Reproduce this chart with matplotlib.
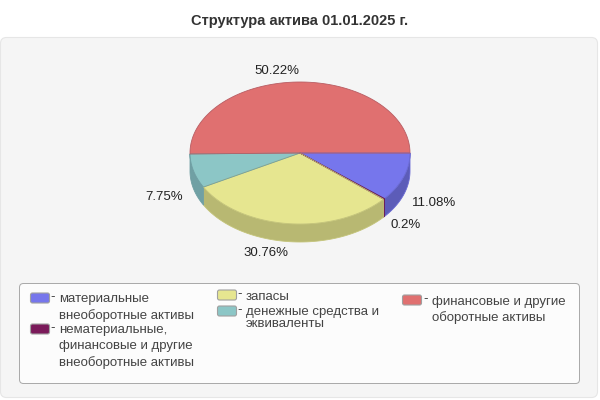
import numpy as np
import matplotlib.pyplot as plt
from matplotlib.patches import FancyBboxPatch, Polygon

plt.rcParams['font.family'] = ['Liberation Sans', 'DejaVu Sans']

title = 'Структура актива 01.01.2025 г.'
shares = [11.08, 0.2, 30.76, 7.75, 50.22]
pct_labels = ['11.08%', '0.2%', '30.76%', '7.75%', '50.22%']
top_colors = ['#7676ec', '#7a1a5a', '#e6e690', '#8cc6c6', '#e07070']
edge_colors = ['#6a6ad4', '#6a1650', '#c4c47a', '#6f9fa3', '#b85c62']
side_colors = ['#5c5cb8', '#6a1650', '#b8b872', '#70a0a4', '#b05a5a']
legend_labels = ['материальные\nвнеоборотные активы',
                 'нематериальные,\nфинансовые и другие\nвнеоборотные активы',
                 'запасы',
                 'денежные средства и\nэквиваленты',
                 'финансовые и другие\nоборотные активы']

W, H = 600, 400
fig = plt.figure(figsize=(6, 4), dpi=100, facecolor='white')

# background layer in pixel coordinates
bg = fig.add_axes([0, 0, 1, 1])
bg.set_xlim(0, W)
bg.set_ylim(H, 0)
bg.axis('off')

def rbox(x0, y0, x1, y1, r, fc, ec, lw):
    bg.add_patch(FancyBboxPatch((x0 + r, y0 + r), x1 - x0 - 2 * r, y1 - y0 - 2 * r,
                                boxstyle='round,pad=%g,rounding_size=%g' % (r, r),
                                fc=fc, ec=ec, lw=lw))

rbox(0.5, 37.5, 597.5, 397.5, 6, '#f5f5f5', '#e6e6e6', 0.8)
rbox(19.5, 283.5, 579.5, 383.5, 4, '#fcfcfc', '#a8a8a8', 0.7)
bg.text(300, 21, title, ha='center', va='center', fontsize=10.5, fontweight='bold', color='#333333')

# pie top, squashed into the ellipse box
cx, cy, rx, ry, depth = 300, 153, 110, 71, 18
ax = fig.add_axes([(cx - rx) / W, 1 - (cy + ry) / H, 2 * rx / W, 2 * ry / H])
ax.pie(shares, colors=top_colors, startangle=0, counterclock=False, radius=1,
       wedgeprops={'linewidth': 0})
ax.set_aspect('auto')
ax.set_xlim(-1, 1)
ax.set_ylim(-1, 1)
ax.set_zorder(2)
ax.patch.set_alpha(0)

# slice edges and side walls worked out from the shares
ends = np.cumsum(shares) / 100 * 2 * np.pi
starts = ends - np.array(shares) / 100 * 2 * np.pi

def px(t):
    return cx + rx * np.cos(t), cy + ry * np.sin(t)

for s, e, side, edge in zip(starts, ends, side_colors, edge_colors):
    t = np.linspace(s, e, 80)
    x, y = px(t)
    ax_pts = np.column_stack([x, y])
    # wall: only the front half of the rim is visible
    if s < np.pi - 0.05:
        ft = np.linspace(s, min(e, np.pi), 80)
        fx, fy = px(ft)
        wall = np.vstack([np.column_stack([fx, fy]),
                          np.column_stack([fx[::-1], fy[::-1] + depth])])
        bg.add_patch(Polygon(wall, closed=True, fc=side, ec=edge, lw=0.6))
    outline = np.vstack([[cx, cy], ax_pts, [cx, cy]])
    fig.add_artist(plt.Line2D(outline[:, 0] / W, 1 - outline[:, 1] / H, color=edge, lw=0.6,
                              transform=fig.transFigure, zorder=5))

# percent labels
pct_pos = [(434.5, 202.5), (405.5, 225.5), (265.5, 253.5), (164.5, 196.5), (276.5, 70.5)]
for lab, (x, y) in zip(pct_labels, pct_pos):
    bg.text(x, y, lab, ha='center', va='center', fontsize=9.5, color='#222222')

# legend
legend_swatch = [(40, 298), (40, 329), (227, 295), (227, 311), (412, 300)]
legend_text = [(59, 293), (59, 324), (246, 290.5), (246, 305.5), (432, 295.5)]
legend_spacing = [1.4, 1.4, 1.2, 1.05, 1.4]
for lab, col, (sx, sy), (tx, ty), ls in zip(legend_labels, top_colors, legend_swatch,
                                            legend_text, legend_spacing):
    bg.add_patch(FancyBboxPatch((sx - 7, sy - 2.5), 14, 5, boxstyle='round,pad=2.5,rounding_size=2',
                                fc=col, ec='#a0a0a0', lw=0.8))
    bg.text(tx - 6.5, sy - 0.5, '-', ha='center', va='center', fontsize=9.5, color='#333333')
    bg.text(tx, ty, lab, ha='left', va='top', fontsize=9.5, color='#444444', linespacing=ls)

fig.savefig('out.png', dpi=100)
